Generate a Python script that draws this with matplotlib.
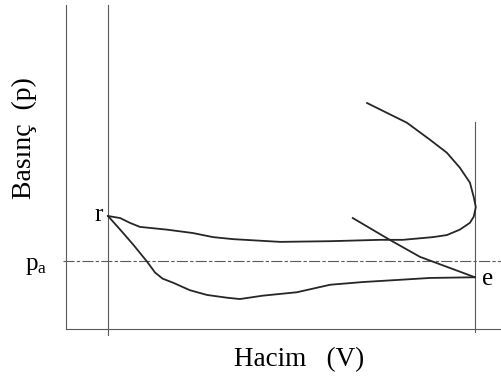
"""Schematic p-V diagram of the gas exchange loop (exhaust + intake)."""

import matplotlib
matplotlib.use("Agg")
import matplotlib.pyplot as plt

plt.rcParams["font.family"] = ["Liberation Serif", "DejaVu Serif"]
plt.rcParams["mathtext.fontset"] = "custom"
plt.rcParams["mathtext.rm"] = "Liberation Serif"
plt.rcParams["mathtext.it"] = "Liberation Serif"

# volume in clearance-volume units (TDC = 1), pressure in p_a units
V_TDC = 1.0
V_BDC = 9.74
P_ATM = 1.0

# blowdown + exhaust stroke: from end of expansion back to point r
exh_v = [7.17, 8.12, 8.67, 9.07, 9.38, 9.62, 9.71, 9.76, 9.71, 9.62, 9.38,
         9.07, 8.74, 8.02, 7.48, 6.29, 5.10, 3.98, 3.50, 3.02, 2.40, 1.76,
         1.52, 1.29, 1.00]
exh_p = [3.32, 3.03, 2.78, 2.59, 2.37, 2.15, 1.94, 1.79, 1.65, 1.56, 1.46,
         1.38, 1.35, 1.31, 1.31, 1.29, 1.28, 1.32, 1.35, 1.41, 1.46, 1.50,
         1.56, 1.63, 1.66]

# intake stroke: r -> e
int_v = [1.00, 1.29, 1.60, 1.93, 2.12, 2.30, 2.55, 2.95, 3.36, 3.83, 4.14,
         4.69, 5.50, 6.29, 7.07, 7.88, 8.67, 9.74]
int_p = [1.66, 1.46, 1.24, 0.99, 0.83, 0.74, 0.68, 0.57, 0.50, 0.46, 0.44,
         0.49, 0.54, 0.65, 0.69, 0.72, 0.75, 0.76]

# start of compression from e
cmp_v = [9.74, 8.43, 7.71, 6.83]
cmp_p = [0.76, 1.06, 1.31, 1.63]

CURVE = "#262626"
AXIS = "#5a5a5a"

fig = plt.figure(figsize=(5.01, 3.83), dpi=100)
fig.patch.set_facecolor("white")
ax = fig.add_axes([66 / 501, 54 / 383, 435 / 501, 324 / 383])
ax.set_xlim(0, 10.36)
ax.set_ylim(0, 4.76)

for s in ("top", "right"):
    ax.spines[s].set_visible(False)
for s in ("left", "bottom"):
    ax.spines[s].set_color(AXIS)
    ax.spines[s].set_linewidth(0.8)
ax.set_xticks([])
ax.set_yticks([])

# TDC / BDC verticals and ambient pressure
ax.plot([V_TDC, V_TDC], [-0.09, 4.76], color=AXIS, lw=0.8, clip_on=False)
ax.plot([V_BDC, V_BDC], [-0.05, 3.04], color=AXIS, lw=0.8, clip_on=False)
ax.plot([-0.08, 10.36], [P_ATM, P_ATM], color=AXIS, lw=0.8,
        ls=(0, (10, 2, 3, 2)), clip_on=False)

ax.plot(exh_v, exh_p, color=CURVE, lw=1.3, solid_joinstyle="round")
ax.plot(int_v, int_p, color=CURVE, lw=1.3, solid_joinstyle="round")
ax.plot(cmp_v, cmp_p, color=CURVE, lw=1.3, solid_joinstyle="round")

ax.text(exh_v[-1] - 0.12, exh_p[-1] + 0.02, "r", fontsize=18,
        ha="right", va="center")
ax.text(int_v[-1] + 0.17, int_p[-1] - 0.03, "e", fontsize=18,
        ha="left", va="center")
ax.text(-0.45, P_ATM - 0.08, r"$\mathrm{p_a}$", fontsize=18,
        ha="right", va="center", clip_on=False)

ax.set_xlabel("Hacim   (V)", fontsize=19.5)
ax.xaxis.set_label_coords(0.536, -0.055)
ax.set_ylabel("Basınç  (p)", fontsize=20)
ax.yaxis.set_label_coords(-0.067, 0.59)

fig.savefig("out.png", dpi=100, facecolor="white")
